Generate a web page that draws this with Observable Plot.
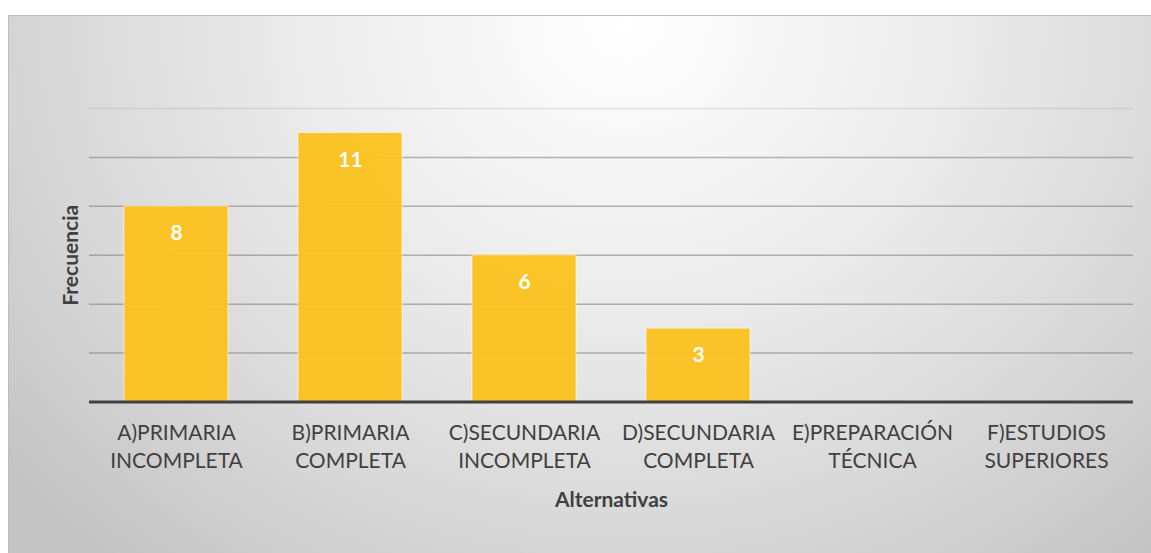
<!DOCTYPE html>
<html><head><meta charset="utf-8">
<script src="https://cdn.jsdelivr.net/npm/d3@7"></script>
<script src="https://cdn.jsdelivr.net/npm/@observablehq/plot@0.6"></script>
<style>
html,body{margin:0;padding:0;background:#fff;width:1151px;height:553px;overflow:hidden}
#bg{position:absolute;left:8px;top:15px;width:1143px;height:538px;box-sizing:border-box;border-top:1px solid #bdbdbd;border-left:1px solid #bdbdbd;
background:radial-gradient(ellipse 70% 130% at 54% 2%, #ffffff 0%, #ececec 40%, #d6d6d6 75%, #c4c4c4 100%);}
#chart{position:absolute;left:0;top:0}
</style></head><body><div id="bg"></div><div id="chart"></div>
<script>
const categories = ["A)PRIMARIA\nINCOMPLETA","B)PRIMARIA\nCOMPLETA","C)SECUNDARIA\nINCOMPLETA","D)SECUNDARIA\nCOMPLETA","E)PREPARACIÓN\nTÉCNICA","F)ESTUDIOS\nSUPERIORES"];
const values = [8, 11, 6, 3, 0, 0];
const gridTicks = [2, 4, 6, 8, 10];
const topTick = [12];
const xTitle = "Alternativas";
const yTitle = "Frecuencia";

const data = categories.map((c, i) => ({cat: c, value: values[i]}));
const font = "Lato, 'Open Sans', sans-serif";

const plot = Plot.plot({
  width: 1151,
  height: 553,
  marginLeft: 89,
  marginRight: 18,
  marginTop: 108,
  marginBottom: 151.5,
  style: {background: "transparent", fontFamily: font},
  x: {domain: categories, paddingInner: 0.4, paddingOuter: 0.2, axis: null},
  y: {domain: [0, 12], axis: null},
  marks: [
    Plot.ruleY(gridTicks, {stroke: "#7a7a7a", strokeWidth: 1.5, strokeOpacity: 0.55}),
    Plot.ruleY(topTick, {stroke: "#9a9a9a", strokeWidth: 1.5, strokeOpacity: 0.25}),
    Plot.barY(data, {x: "cat", y: "value", fill: "#FBC21F", fillOpacity: 0.95, stroke: "#fff", strokeOpacity: 0.6, strokeWidth: 1}),
    Plot.ruleY([0], {stroke: "#404040", strokeWidth: 3}),
    Plot.text(data.filter(d => d.value > 0), {x: "cat", y: "value", text: d => String(d.value), dy: 27, fill: "#fff", fontWeight: "bold", fontSize: 21, fontFamily: font}),
    Plot.axisX({tickSize: 0, tickPadding: 18, fontSize: 21, fill: "#404040", lineHeight: 1.33, label: null, fontFamily: font}),
    Plot.text([xTitle], {frameAnchor: "bottom", lineAnchor: "middle", dy: 98.5, fontWeight: "bold", fontSize: 21, fill: "#404040", fontFamily: font}),
    Plot.text([yTitle], {frameAnchor: "left", dx: -18, rotate: -90, textAnchor: "middle", fontWeight: "bold", fontSize: 21, fill: "#404040", fontFamily: font})
  ]
});
document.getElementById("chart").appendChild(plot);
</script>
</body></html>
